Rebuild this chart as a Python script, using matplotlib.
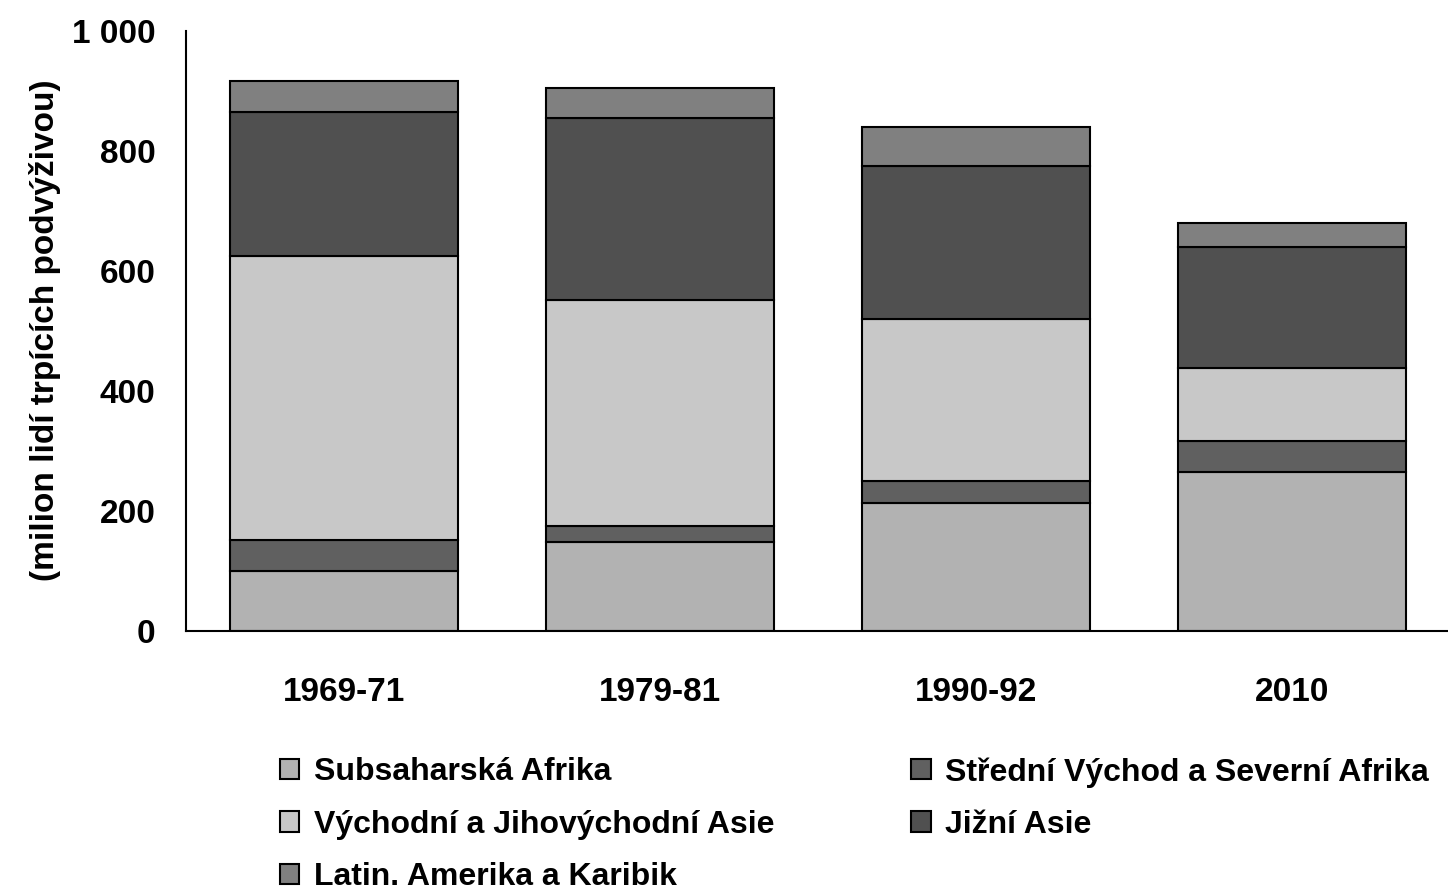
import matplotlib
matplotlib.use("Agg")
import matplotlib.pyplot as plt
from matplotlib import font_manager
import numpy as np

categories = ["1969-71", "1979-81", "1990-92", "2010"]
series_names = ["Subsaharská Afrika", "Střední Východ a Severní Afrika",
                "Východní a Jihovýchodní Asie", "Jižní Asie", "Latin. Amerika a Karibik"]
subsahara = [100, 148, 213, 265]
mena = [52, 27, 37, 52]
east_asia = [473, 377, 270, 121]
south_asia = [240, 303, 255, 202]
latam = [52, 50, 65, 40]
colors = ["#b2b2b2", "#606060", "#c8c8c8", "#505050", "#808080"]

names = set(f.name for f in font_manager.fontManager.ttflist)
fam = "Liberation Sans Narrow" if "Liberation Sans Narrow" in names else "Liberation Sans"
narrow = fam == "Liberation Sans Narrow"
plt.rcParams['font.family'] = [fam, 'DejaVu Sans']
plt.rcParams['font.weight'] = 'bold'

fs_tick = 27 if narrow else 24
fs_leg = 27.5 if narrow else 23

fig = plt.figure(figsize=(14.48, 8.91), dpi=100)
ax = fig.add_axes([186/1448, 1-631/891, (1450-186)/1448, 600/891])

x = np.arange(len(categories))
data = [subsahara, mena, east_asia, south_asia, latam]
bottom = np.zeros(len(categories))
handles = []
for vals, c, n in zip(data, colors, series_names):
    b = ax.bar(x, vals, 0.72, bottom=bottom, color=c, edgecolor='black', linewidth=1.5, label=n)
    handles.append(b)
    bottom += np.array(vals)

ax.set_xlim(-0.5, len(categories) - 0.5)
ax.set_ylim(0, 1000)
ax.set_yticks([0, 200, 400, 600, 800, 1000])
ax.set_yticklabels(["0", "200", "400", "600", "800", "1 000"])
ax.set_xticks(x)
ax.set_xticklabels(categories)
ax.tick_params(axis='both', length=0, labelsize=fs_tick)
ax.tick_params(axis='x', pad=33)
ax.tick_params(axis='y', pad=22)
for s in ['top', 'right']:
    ax.spines[s].set_visible(False)
ax.spines['left'].set_linewidth(1.5)
ax.spines['bottom'].set_linewidth(1.5)
fig.text(45/1448, 1-330/891, "(milion lidí trpících podvýživou)", rotation=90,
         ha='center', va='center', fontsize=fs_tick, fontweight='bold')

order = [0, 2, 4, 1, 3]
fig.legend([handles[i] for i in order], [series_names[i] for i in order],
           ncol=2, loc='upper left', bbox_to_anchor=(280/1448, 1-757/891),
           frameon=False, fontsize=fs_leg, handlelength=0.6, handleheight=0.6,
           handletextpad=0.45, columnspacing=4.3, labelspacing=0.7, borderpad=0, borderaxespad=0)

fig.savefig("out.png", dpi=100)
